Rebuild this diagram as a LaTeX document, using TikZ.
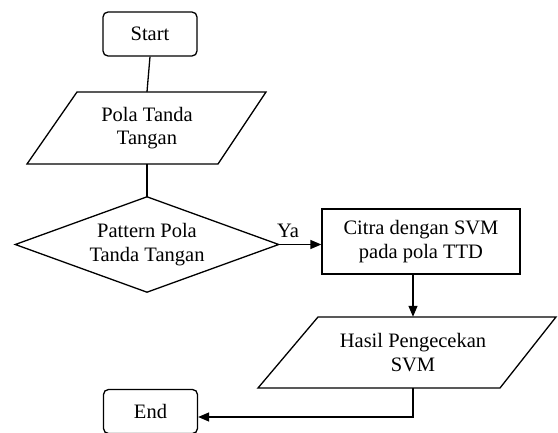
\documentclass[tikz,border=0pt]{standalone}
\usepackage{fontspec}
\setmainfont{Liberation Serif}
\usetikzlibrary{arrows.meta,calc}
\begin{document}
\begin{tikzpicture}[x=1pt,y=1pt,
  line/.style={line width=1.3pt},
  arr/.style={line, -{Triangle[length=11pt,width=9pt]}},
  lbl/.style={font=\fontsize{20.5}{23.5}\selectfont, align=center, inner sep=0pt, text=black},
  term/.style={lbl, draw, line, rounded corners=5pt, minimum width=94pt, minimum height=44pt},
  procbox/.style={lbl, draw, line, minimum width=198pt, minimum height=65pt},
  holder/.style={lbl, minimum width=100pt, minimum height=#1}
]
\useasboundingbox (0,0) rectangle (558,432);
\fill[white] (0,0) rectangle (558,432);

\node[term] (s) at (150,398) {Start};
\node[holder=72pt] (p1) at (147,304) {Pola Tanda\\Tangan};
\draw[line] ($(p1)+(-70,36)$) -- ($(p1)+(119,36)$) -- ($(p1)+(71,-36)$) -- ($(p1)+(-120,-36)$) -- cycle;

\node[lbl, minimum width=263pt, minimum height=95pt] (d) at (147,187.5) {Pattern Pola\\Tanda Tangan};
\draw[line] (d.north) -- (d.east) -- (d.south) -- (d.west) -- cycle;

\node[procbox] (c) at (421,190.5) {Citra dengan SVM\\pada pola TTD};

\node[holder=71pt] (p2) at (413,79.5) {Hasil Pengecekan\\SVM};
\draw[line] ($(p2)+(-95,35.5)$) -- ($(p2)+(143,35.5)$) -- ($(p2)+(87,-35.5)$) -- ($(p2)+(-155,-35.5)$) -- cycle;

\node[term] (e) at (150.5,20.5) {End};
\coordinate (k) at (413,15);

\draw[line] (s.south) -- (p1.north);
\draw[line] (p1.south) -- (d.north);
\draw[arr] (d.east) -- (c.west |- d.east) node[lbl, pos=0.22, above=6pt] (ya) {Ya};
\draw[arr] (c.south -| p2.north) -- (p2.north);
\draw[arr] (p2.south) -- (k) -- (k -| e.east);
\end{tikzpicture}
\end{document}
